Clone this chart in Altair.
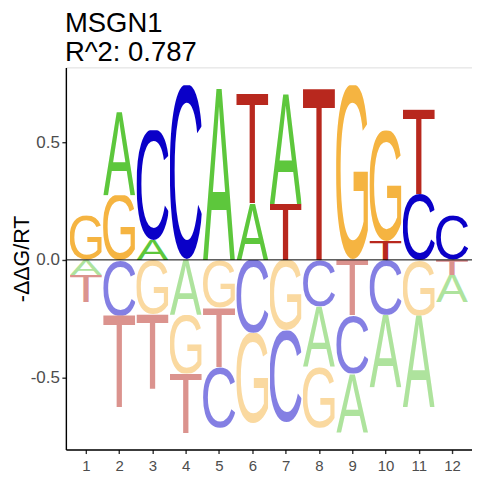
import base64
import altair as alt
import pandas as pd

# ---- data ----
positions = list(range(1, 13))
A_vals = [-0.064, 0.352, 0.085, -0.233, 0.728, 0.240, 0.466, -0.257, -0.251, -0.308, -0.390, -0.117]
C_vals = [0.000, -0.236, 0.466, 0.742, -0.258, -0.310, -0.390, -0.198, -0.247, -0.233, 0.280, 0.190]
G_vals = [0.190, 0.275, -0.230, -0.250, -0.203, -0.384, -0.300, -0.258, 0.742, 0.470, -0.236, 0.000]
T_vals = [-0.117, -0.390, -0.318, -0.254, -0.252, 0.466, 0.237, 0.725, -0.236, 0.080, 0.360, -0.064]
title_lines = ["MSGN1", "R^2: 0.787"]
y_ticks = [-0.5, 0.0, 0.5]
y_title = "-ΔΔG/RT"

# ---- styles ----
letter_colors = {"A": "#5DC73C", "C": "#0A00C8", "G": "#F5B441", "T": "#B8281E"}
# ink box of each glyph (font units at font-size 1000): xmin, xmax, ymin, ymax
glyph_box = {
    "A": (-1.5, 668.5, 0.0, 688.0),
    "C": (49.0, 674.0, -10.0, 698.0),
    "G": (53.0, 709.0, -10.0, 698.0),
    "T": (22.0, 589.0, 0.0, 688.0),
}


def glyph_url(letter, positive):
    x0, x1, y0, y1 = glyph_box[letter]
    w = x1 - x0
    h = y1 - y0
    op = 1 if positive else 0.5
    svg = (
        f'<svg xmlns="http://www.w3.org/2000/svg" width="{w}" height="{h}" '
        f'viewBox="{x0} {-y1} {w} {h}" preserveAspectRatio="none">'
        f'<text x="0" y="0" font-family="Liberation Sans, Arial, Helvetica, sans-serif" '
        f'font-size="1000" fill="{letter_colors[letter]}" fill-opacity="{op}">{letter}</text></svg>'
    )
    return "data:image/svg+xml;base64," + base64.b64encode(svg.encode("utf-8")).decode("ascii")


series = {"A": A_vals, "C": C_vals, "G": G_vals, "T": T_vals}
rows = []
for letter, vals in series.items():
    for p, v in zip(positions, vals):
        if v != 0:
            rows.append({"pos": p, "letter": letter, "value": v, "url": glyph_url(letter, v > 0)})
df = pd.DataFrame(rows)

FONT = "Arial, Liberation Sans, Helvetica, sans-serif"

xscale = alt.Scale(domain=[0.4, 12.6], nice=False, zero=False)
yscale = alt.Scale(domain=[-0.806, 0.818], nice=False, zero=False)

xaxis = alt.Axis(
    values=positions, format="d", title=None, grid=False,
    domainColor="black", domainWidth=1.4, tickColor="#333333", tickWidth=1.4, tickSize=4,
    labelColor="#4D4D4D", labelFontSize=15, labelPadding=5, labelFont=FONT,
)
yaxis = alt.Axis(
    values=y_ticks, title=y_title, grid=False,
    labelExpr="datum.value == 0 ? '0.0' : (datum.value < 0 ? '-' : '') + format(abs(datum.value), '.1f')",
    domainColor="black", domainWidth=1.4, tickColor="#333333", tickWidth=1.4, tickSize=4,
    labelColor="#4D4D4D", labelFontSize=17, labelPadding=2.5, labelFont=FONT,
    titleFont=FONT, titleFontSize=21.5, titleFontWeight="normal", titleColor="black",
    titleBaseline="alphabetic", titleX=-37, titleAngle=270,
)

letters = (
    alt.Chart(df)
    .transform_calculate(
        absval="abs(datum.value)",
        xl="datum.pos - 0.48",
        xr="datum.pos + 0.48",
    )
    .transform_stack(
        stack="value", groupby=["pos"], as_=["y0", "y1"],
        sort=[alt.SortField("absval", order="ascending")], offset="zero",
    )
    .mark_image(aspect=False)
    .encode(
        x=alt.X("xl:Q", scale=xscale, axis=xaxis),
        x2="xr:Q",
        y=alt.Y("y0:Q", scale=yscale, axis=yaxis),
        y2="y1:Q",
        url="url:N",
    )
)

zero_line = (
    alt.Chart(pd.DataFrame({"y": [0.0]}))
    .mark_rule(color="black", strokeWidth=1)
    .encode(y=alt.Y("y:Q", scale=yscale))
)

chart = (
    alt.layer(letters, zero_line)
    .properties(
        width=407, height=383,
        autosize="none",
        padding={"left": 58, "top": 59, "right": 0, "bottom": 28},
        title=alt.TitleParams(
            text=title_lines, anchor="start", frame="group", fontSize=27.5, lineHeight=28.5,
            font=FONT, fontWeight="normal", color="black", offset=1, dx=-1,
        ),
    )
    .configure_view(stroke=None)
    .configure(font=FONT, background="white")
)

chart.save("out.html", embed_options={"renderer": "svg", "actions": False})
